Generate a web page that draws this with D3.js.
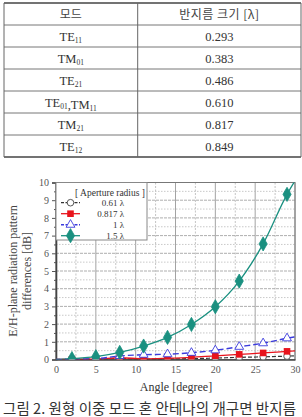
<!DOCTYPE html>
<html><head><meta charset="utf-8">
<script src="https://cdn.jsdelivr.net/npm/d3@7/dist/d3.min.js"></script>
<style>
html,body{margin:0;padding:0;background:#fff;}
svg{display:block;}
</style>
</head><body>
<svg id="c" width="302" height="417"></svg>
<script>
// ---------- table data ----------
const tableHeader = ["모드", "반지름 크기 [λ]"];
const modeNames = [
  [["TE","11"]],
  [["TM","01"]],
  [["TE","21"]],
  [["TE","01"],[",TM","11"]],
  [["TM","21"]],
  [["TE","12"]]
];
const radiusValues = ["0.293","0.383","0.486","0.610","0.817","0.849"];

// ---------- chart data ----------
const angles = [0, 2, 5, 8, 11, 14, 17, 20, 23, 26, 29, 30];
const markerAngles = [2, 5, 8, 11, 14, 17, 20, 23, 26, 29];
const r061  = [0, 0.01, 0.02, 0.05, 0.02, 0.03, 0.05, 0.08, 0.12, 0.15, 0.19, 0.21];
const r0817 = [0, 0.01, 0.02, 0.10, 0.04, 0.07, 0.12, 0.21, 0.29, 0.37, 0.46, 0.49];
const r1    = [0, 0.02, 0.05, 0.20, 0.27, 0.30, 0.38, 0.52, 0.72, 0.92, 1.20, 1.28];
const r15   = [0, 0.05, 0.16, 0.40, 0.76, 1.25, 1.98, 2.98, 4.43, 6.53, 9.33, 10.1];
const seriesNames = ["0.61 λ", "0.817 λ", "1 λ", "1.5 λ"];
const xTicks = [0, 5, 10, 15, 20, 25, 30];
const yTicks = [0,1,2,3,4,5,6,7,8,9,10];

const svg = d3.select("#c");
const serif = "'Liberation Serif','Times New Roman',serif";
const kr = "'Noto Sans CJK KR','Noto Sans',sans-serif";

// ---------- table ----------
const tX0 = 4, tX1 = 301, tDiv = 137.7, tY0 = 3, rowH = 22;
const nRows = 7;
const tg = svg.append("g");
const rowScale = d3.scaleLinear().domain([0, nRows]).range([tY0, tY0 + rowH*nRows]);
d3.range(1, nRows).forEach(i => {
  tg.append("line").attr("x1", tX0).attr("x2", tX1)
    .attr("y1", rowScale(i)).attr("y2", rowScale(i))
    .attr("stroke", "#777").attr("stroke-width", 1);
});
[0, nRows].forEach(i => {
  tg.append("line").attr("x1", tX0).attr("x2", tX1)
    .attr("y1", rowScale(i)).attr("y2", rowScale(i))
    .attr("stroke", "#444").attr("stroke-width", 1.3);
});
[tX0, tDiv, tX1].forEach(x => {
  tg.append("line").attr("x1", x).attr("x2", x)
    .attr("y1", rowScale(0)).attr("y2", rowScale(nRows))
    .attr("stroke", "#666").attr("stroke-width", 1);
});
const c1 = (tX0 + tDiv)/2, c2 = (tDiv + tX1)/2;
tg.append("text").attr("x", c1).attr("y", rowScale(0.5)+4.5)
  .attr("text-anchor","middle").attr("font-family", kr).attr("font-size", 12)
  .attr("fill","#444").text(tableHeader[0]);
tg.append("text").attr("x", c2).attr("y", rowScale(0.5)+4.5)
  .attr("text-anchor","middle").attr("font-family", kr).attr("font-size", 12)
  .attr("fill","#444").attr("letter-spacing", 0.5).text(tableHeader[1]);
modeNames.forEach((parts, i) => {
  const t = tg.append("text").attr("x", c1).attr("y", rowScale(i+1.5)+4.5)
    .attr("text-anchor","middle").attr("font-family", serif).attr("font-size", 12.5)
    .attr("fill","#333");
  parts.forEach(p => {
    t.append("tspan").text(p[0]);
    t.append("tspan").attr("font-size", 7.5).attr("dy", 2).text(p[1]);
    t.append("tspan").attr("dy", -2).text("");
  });
});
radiusValues.forEach((v, i) => {
  tg.append("text").attr("x", c2).attr("y", rowScale(i+1.5)+4.5)
    .attr("text-anchor","middle").attr("font-family", serif).attr("font-size", 12.5)
    .attr("fill","#333").text(v);
});

// ---------- chart ----------
const x = d3.scaleLinear().domain([0, 30]).range([56, 295]);
const y = d3.scaleLinear().domain([0, 10]).range([359.5, 182.5]);
const g = svg.append("g");

d3.range(0, 30.01, 2.5).forEach(v => {
  const major = v % 5 === 0;
  g.append("line").attr("x1", x(v)).attr("x2", x(v)).attr("y1", y(0)).attr("y2", y(10))
    .attr("stroke", major ? "#999" : "#b5b5b5").attr("stroke-width", major ? 0.9 : 0.8)
    .attr("stroke-dasharray", major ? null : "2,1.5");
});
d3.range(0, 10.01, 0.5).forEach(v => {
  const major = v % 1 === 0;
  g.append("line").attr("x1", x(0)).attr("x2", x(30)).attr("y1", y(v)).attr("y2", y(v))
    .attr("stroke", major ? "#999" : "#bbb").attr("stroke-width", 0.8)
    .attr("stroke-dasharray", major ? "3,1" : "1.5,1.5");
});
g.append("rect").attr("x", x(0)).attr("y", y(10)).attr("width", x(30)-x(0)).attr("height", y(0)-y(10))
  .attr("fill","none").attr("stroke","#777").attr("stroke-width",1);

const yAxis = d3.axisLeft(y).tickValues(yTicks).tickSize(4).tickPadding(3).tickFormat(d3.format("d"));
const ya = g.append("g").attr("transform", `translate(${x(0)},0)`).call(yAxis);
ya.select(".domain").attr("stroke","#444").attr("stroke-width",1.6);
ya.selectAll(".tick line").attr("stroke","#555");
ya.selectAll("text").attr("font-family", serif).attr("font-size", 10).attr("fill","#555");
const yMinor = d3.axisLeft(y).tickValues(d3.range(0.5, 10, 1)).tickSize(2).tickFormat("");
const ym = g.append("g").attr("transform", `translate(${x(0)},0)`).call(yMinor);
ym.select(".domain").remove(); ym.selectAll(".tick line").attr("stroke","#555");

const xAxis = d3.axisBottom(x).tickValues(xTicks).tickSize(0).tickPadding(6).tickFormat(d3.format("d"));
const xa = g.append("g").attr("transform", `translate(0,${y(0)})`).call(xAxis);
xa.select(".domain").attr("stroke","#444").attr("stroke-width",1.4);
xa.selectAll("text").attr("font-family", serif).attr("font-size", 10).attr("fill","#555");

svg.append("clipPath").attr("id","pc").append("rect")
  .attr("x", x(0)).attr("y", y(10)).attr("width", x(30)-x(0)).attr("height", y(0)-y(10));

const series = [
  {name: seriesNames[0], vals: r061,  color:"#333",    dash:"4,2", width:1.2, marker:"circle"},
  {name: seriesNames[1], vals: r0817, color:"#e8141c", dash:null,  width:1.3, marker:"square"},
  {name: seriesNames[2], vals: r1,    color:"#3b3bdc", dash:"6,3", width:1.4, marker:"triangle"},
  {name: seriesNames[3], vals: r15,   color:"#1a9080", dash:null,  width:1.3, marker:"diamond"}
];
const line = d3.line().x((d,i) => x(angles[i])).y(d => y(d)).curve(d3.curveMonotoneX);

function drawMarker(sel, type, color, cx, cy) {
  if (type === "circle") {
    sel.append("circle").attr("cx", cx).attr("cy", cy).attr("r", 3.3)
      .attr("fill","#fff").attr("stroke","#444").attr("stroke-width",0.9);
  } else if (type === "square") {
    sel.append("rect").attr("x", cx-3.3).attr("y", cy-3.3).attr("width",6.6).attr("height",6.6)
      .attr("fill", color);
  } else if (type === "triangle") {
    sel.append("path").attr("d", d3.symbol(d3.symbolTriangle, 34)())
      .attr("transform", `translate(${cx},${cy})`)
      .attr("fill","#fff").attr("stroke", color).attr("stroke-width",0.9);
  } else {
    sel.append("path").attr("d", d3.symbol(d3.symbolDiamond, 58)())
      .attr("transform", `translate(${cx},${cy})`)
      .attr("fill", color).attr("stroke", color).attr("stroke-width",0.8);
  }
}

const pg = g.append("g").attr("clip-path","url(#pc)");
series.forEach(s => {
  pg.append("path").datum(s.vals).attr("d", line)
    .attr("fill","none").attr("stroke", s.color).attr("stroke-width", s.width)
    .attr("stroke-dasharray", s.dash);
});
series.forEach(s => {
  markerAngles.forEach(a => {
    const i = angles.indexOf(a);
    drawMarker(pg, s.marker, s.color, x(a), y(s.vals[i]));
  });
});

const lg = g.append("g");
lg.append("rect").attr("x", x(0)).attr("y", y(10)).attr("width", 91).attr("height", 57.5)
  .attr("fill","#fff").attr("stroke","#888").attr("stroke-width",1);
lg.append("text").attr("x", 145).attr("y", 196).attr("text-anchor","end")
  .attr("font-family", serif).attr("font-size", 9.5).attr("fill","#333").text("[ Aperture radius ]");
series.forEach((s, k) => {
  const ly = 202.7 + k*11;
  lg.append("line").attr("x1", 61).attr("x2", 80).attr("y1", ly).attr("y2", ly)
    .attr("stroke", s.color).attr("stroke-width", s.width).attr("stroke-dasharray", s.dash ? "3,1.5" : null);
  drawMarker(lg, s.marker, s.color, 70.5, ly);
  lg.append("text").attr("x", 124).attr("y", ly+3.2).attr("text-anchor","end")
    .attr("font-family", serif).attr("font-size", 9).attr("fill","#333").text(s.name);
});

const yl = g.append("text").attr("transform", "translate(17,271) rotate(-90)")
  .attr("text-anchor","middle").attr("font-family", serif).attr("font-size", 12).attr("fill","#444");
yl.append("tspan").attr("x",0).attr("y",0).text("E/H-plane radiation pattern");
yl.append("tspan").attr("x",0).attr("y",14).text("differences [dB]");
g.append("text").attr("x", 176).attr("y", 391).attr("text-anchor","middle")
  .attr("font-family", serif).attr("font-size", 12).attr("fill","#333").text("Angle [degree]");

svg.append("text").attr("x", 3).attr("y", 414)
  .attr("font-family", kr).attr("font-size", 14.5).attr("fill","#333")
  .attr("textLength", 293).attr("lengthAdjust","spacing")
  .text("그림 2. 원형 이중 모드 혼 안테나의 개구면 반지름");
</script>
</body></html>
